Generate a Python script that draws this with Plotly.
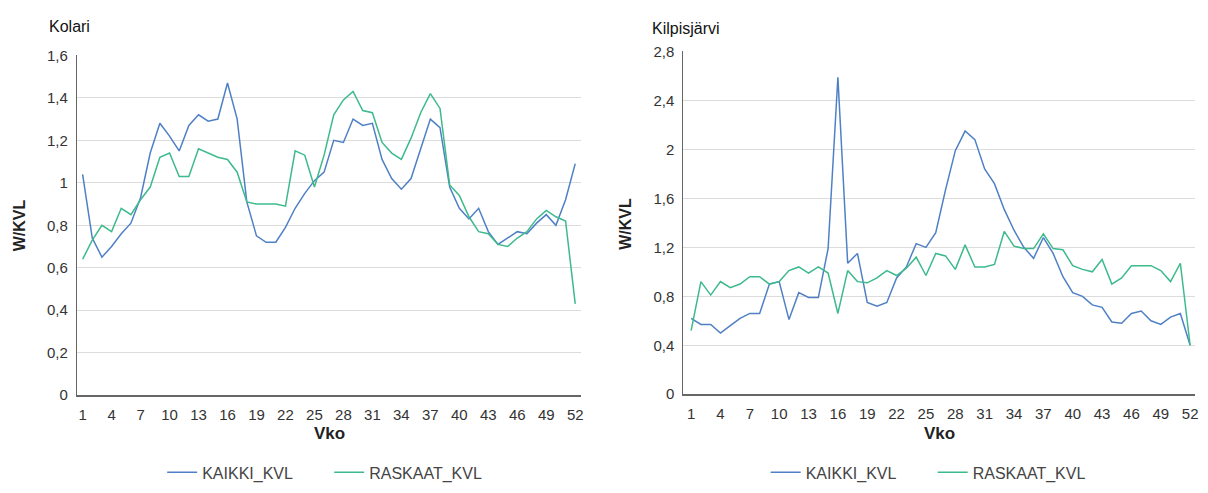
import plotly.graph_objects as go

weeks = list(range(1, 53))
tick_weeks = list(range(1, 53, 3))

kolari_kaikki = [1.04, 0.74, 0.65, 0.70, 0.76, 0.81, 0.93, 1.14, 1.28, 1.22,
                 1.15, 1.27, 1.32, 1.29, 1.30, 1.47, 1.30, 0.91, 0.75, 0.72,
                 0.72, 0.79, 0.88, 0.95, 1.01, 1.05, 1.20, 1.19, 1.30, 1.27,
                 1.28, 1.11, 1.02, 0.97, 1.02, 1.16, 1.30, 1.26, 0.98, 0.88,
                 0.83, 0.88, 0.77, 0.71, 0.74, 0.77, 0.76, 0.81, 0.85, 0.80,
                 0.92, 1.09]
kolari_raskaat = [0.64, 0.73, 0.80, 0.77, 0.88, 0.85, 0.92, 0.98, 1.12, 1.14,
                  1.03, 1.03, 1.16, 1.14, 1.12, 1.11, 1.05, 0.91, 0.90, 0.90,
                  0.90, 0.89, 1.15, 1.13, 0.98, 1.13, 1.32, 1.39, 1.43, 1.34,
                  1.33, 1.19, 1.14, 1.11, 1.21, 1.33, 1.42, 1.35, 0.99, 0.94,
                  0.84, 0.77, 0.76, 0.71, 0.70, 0.74, 0.77, 0.83, 0.87, 0.84,
                  0.82, 0.43]
kilpis_kaikki = [0.62, 0.57, 0.57, 0.50, 0.56, 0.62, 0.66, 0.66, 0.90, 0.92,
                 0.61, 0.83, 0.79, 0.79, 1.19, 2.59, 1.07, 1.15, 0.75, 0.72,
                 0.75, 0.95, 1.04, 1.23, 1.20, 1.32, 1.67, 1.99, 2.15, 2.08,
                 1.84, 1.72, 1.51, 1.34, 1.20, 1.11, 1.28, 1.15, 0.96, 0.83,
                 0.80, 0.73, 0.71, 0.59, 0.58, 0.66, 0.68, 0.60, 0.57, 0.63,
                 0.66, 0.40]
kilpis_raskaat = [0.52, 0.92, 0.81, 0.92, 0.87, 0.90, 0.96, 0.96, 0.90, 0.92,
                  1.01, 1.04, 0.99, 1.04, 0.99, 0.66, 1.01, 0.92, 0.91, 0.95,
                  1.01, 0.97, 1.03, 1.12, 0.97, 1.15, 1.13, 1.02, 1.22, 1.04,
                  1.04, 1.06, 1.33, 1.21, 1.19, 1.19, 1.31, 1.19, 1.18, 1.05,
                  1.02, 1.00, 1.10, 0.90, 0.95, 1.05, 1.05, 1.05, 1.01, 0.92,
                  1.07, 0.40]

BLUE = "#4f80c6"
GREEN = "#3dba8c"
W, H = 1208, 493
FONT = "Liberation Sans, Arial, sans-serif"

def px(x):
    return x / W

def py(y):
    return 1 - y / H

fig = go.Figure()
fig.add_trace(go.Scatter(x=weeks, y=kolari_kaikki, name="KAIKKI_KVL", mode="lines",
                         line=dict(color=BLUE, width=1.5), xaxis="x", yaxis="y", legend="legend"))
fig.add_trace(go.Scatter(x=weeks, y=kolari_raskaat, name="RASKAAT_KVL", mode="lines",
                         line=dict(color=GREEN, width=1.5), xaxis="x", yaxis="y", legend="legend"))
fig.add_trace(go.Scatter(x=weeks, y=kilpis_kaikki, name="KAIKKI_KVL", mode="lines",
                         line=dict(color=BLUE, width=1.5), xaxis="x2", yaxis="y2", legend="legend2"))
fig.add_trace(go.Scatter(x=weeks, y=kilpis_raskaat, name="RASKAAT_KVL", mode="lines",
                         line=dict(color=GREEN, width=1.5), xaxis="x2", yaxis="y2", legend="legend2"))

xcommon = dict(tickmode="array", tickvals=tick_weeks, showgrid=False, zeroline=False,
               showline=True, linecolor="#666", linewidth=2, ticks="",
               tickfont=dict(family=FONT, size=15, color="#333"), ticklabelstandoff=5)
ycommon = dict(showgrid=True, gridcolor="#dcdcdc", gridwidth=1, zeroline=False,
               showline=True, linecolor="#666", linewidth=1, ticks="",
               tickfont=dict(family=FONT, size=15, color="#333"), ticklabelstandoff=5)

legend_common = dict(orientation="h", yanchor="middle", y=py(480), xanchor="center",
                     font=dict(family=FONT, size=16, color="#444"), entrywidth=122,
                     bgcolor="rgba(0,0,0,0)")

fig.update_layout(
    width=W, height=H,
    margin=dict(l=0, r=0, t=0, b=0),
    paper_bgcolor="white", plot_bgcolor="white",
    separators=", ",
    font=dict(family=FONT, color="#333"),
    xaxis=dict(domain=[px(77), px(582)], range=[0.4, 52.55], anchor="y", **xcommon),
    yaxis=dict(domain=[py(400), py(48)], range=[0, 1.6], dtick=0.2, anchor="x", **ycommon),
    xaxis2=dict(domain=[px(685), px(1198)], range=[0.2, 52.5], anchor="y2", **xcommon),
    yaxis2=dict(domain=[py(399), py(44)], range=[0, 2.8], dtick=0.4, anchor="x2", **ycommon),
    legend=dict(x=px(330), **legend_common),
    legend2=dict(x=px(935), **legend_common),
    showlegend=True,
)

annots = [
    dict(text="Kolari", x=px(47), y=py(18), xanchor="left", yanchor="middle",
         font=dict(family=FONT, size=16, color="#111")),
    dict(text="Kilpisjärvi", x=px(652), y=py(20), xanchor="left", yanchor="middle",
         font=dict(family=FONT, size=16, color="#111")),
    dict(text="<b>W/KVL</b>", x=px(19), y=py(224), textangle=-90, xanchor="center", yanchor="middle",
         font=dict(family=FONT, size=16, color="#222")),
    dict(text="<b>W/KVL</b>", x=px(627), y=py(222), textangle=-90, xanchor="center", yanchor="middle",
         font=dict(family=FONT, size=16, color="#222")),
    dict(text="<b>Vko</b>", x=px(330), y=py(440), xanchor="center", yanchor="middle",
         font=dict(family=FONT, size=17, color="#222")),
    dict(text="<b>Vko</b>", x=px(942), y=py(440), xanchor="center", yanchor="middle",
         font=dict(family=FONT, size=17, color="#222")),
]
for a in annots:
    fig.add_annotation(xref="paper", yref="paper", showarrow=False, **a)

fig.write_html("out.html", config={"displayModeBar": False},
               post_script="document.body.style.margin='0';")
